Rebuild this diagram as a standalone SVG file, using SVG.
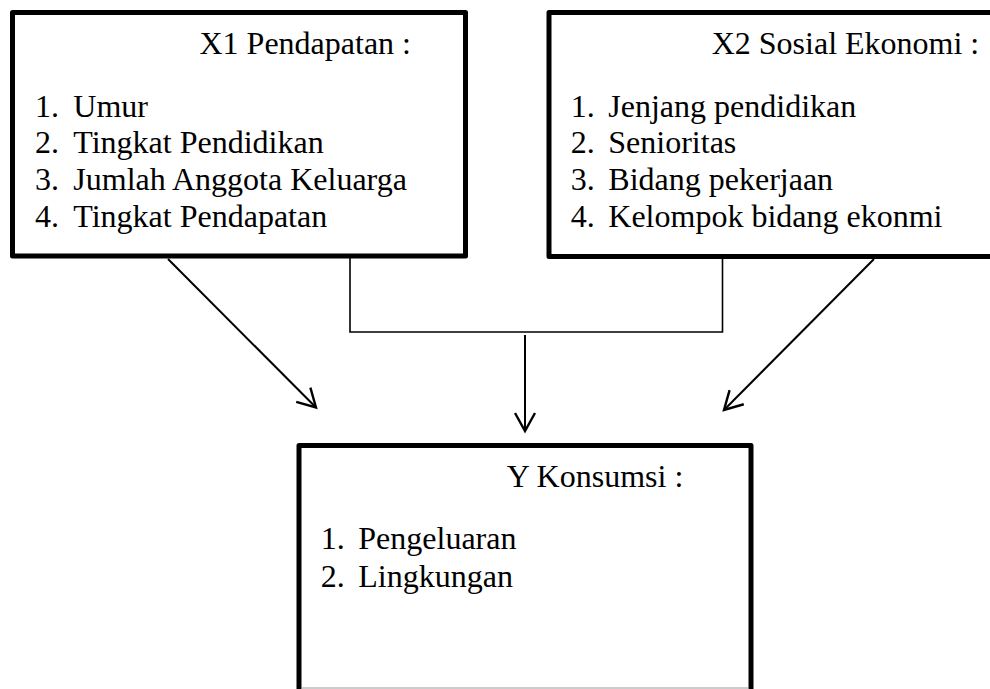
<svg xmlns="http://www.w3.org/2000/svg" width="990" height="689" viewBox="0 0 990 689">
  <style>
    .box { fill: #ffffff; stroke: #000000; stroke-width: 5; stroke-linejoin: round; }
    .t { font-family: 'Liberation Serif', 'Times New Roman', Tinos, serif; font-size: 32px; fill: #000000; }
    .conn { fill: none; stroke: #000000; stroke-width: 1.6; }
    .arrow { fill: none; stroke: #000000; stroke-width: 2; marker-end: url(#head); }
  </style>
  <defs>
    <marker id="head" markerUnits="userSpaceOnUse" viewBox="-22 -14 26 28" refX="0" refY="0" markerWidth="26" markerHeight="28" orient="auto">
      <path d="M-18,-10 L0,0 L-18,10" fill="none" stroke="#000000" stroke-width="2.4" stroke-linejoin="miter"/>
    </marker>
  </defs>
  <rect width="990" height="689" fill="#ffffff"/>

  <g id="x1" font-family="'Liberation Serif', 'Times New Roman', serif">
    <rect class="box" x="12.5" y="12.5" width="453" height="243.5"/>
    <text class="t" x="199.5" y="53.5">X1 Pendapatan :</text>
    <text class="t" x="35" y="116.7">1.</text><text class="t" x="73.3" y="116.7">Umur</text>
    <text class="t" x="35" y="153.3">2.</text><text class="t" x="73.3" y="153.3">Tingkat Pendidikan</text>
    <text class="t" x="35" y="190">3.</text><text class="t" x="73.3" y="190">Jumlah Anggota Keluarga</text>
    <text class="t" x="35" y="226.7">4.</text><text class="t" x="73.3" y="226.7">Tingkat Pendapatan</text>
  </g>

  <g id="x2" font-family="'Liberation Serif', 'Times New Roman', serif">
    <rect class="box" x="549" y="12.5" width="460" height="244"/>
    <text class="t" x="711.7" y="53.5">X2 Sosial Ekonomi :</text>
    <text class="t" x="570.7" y="116.7">1.</text><text class="t" x="608.3" y="116.7">Jenjang pendidikan</text>
    <text class="t" x="570.7" y="153.3">2.</text><text class="t" x="608.3" y="153.3">Senioritas</text>
    <text class="t" x="570.7" y="190">3.</text><text class="t" x="608.3" y="190">Bidang pekerjaan</text>
    <text class="t" x="570.7" y="226.7">4.</text><text class="t" x="608.3" y="226.7">Kelompok bidang ekonmi</text>
  </g>

  <g id="y" font-family="'Liberation Serif', 'Times New Roman', serif">
    <rect class="box" x="299" y="445.5" width="452" height="270"/>
    <line x1="301.5" y1="688" x2="748.5" y2="688" stroke="#9a9a9a" stroke-width="1"/>
    <text class="t" x="506.7" y="486.7">Y Konsumsi :</text>
    <text class="t" x="320.7" y="549.3">1.</text><text class="t" x="358.3" y="549.3">Pengeluaran</text>
    <text class="t" x="320.7" y="586.7">2.</text><text class="t" x="358.3" y="586.7">Lingkungan</text>
  </g>

  <g id="connectors">
    <polyline class="conn" points="350,258 350,332 722.5,332 722.5,258"/>
    <line class="arrow" x1="168" y1="259" x2="316" y2="407.5"/>
    <line class="arrow" x1="525" y1="335" x2="525" y2="431"/>
    <line class="arrow" x1="874" y1="259" x2="724" y2="410"/>
  </g>
</svg>
